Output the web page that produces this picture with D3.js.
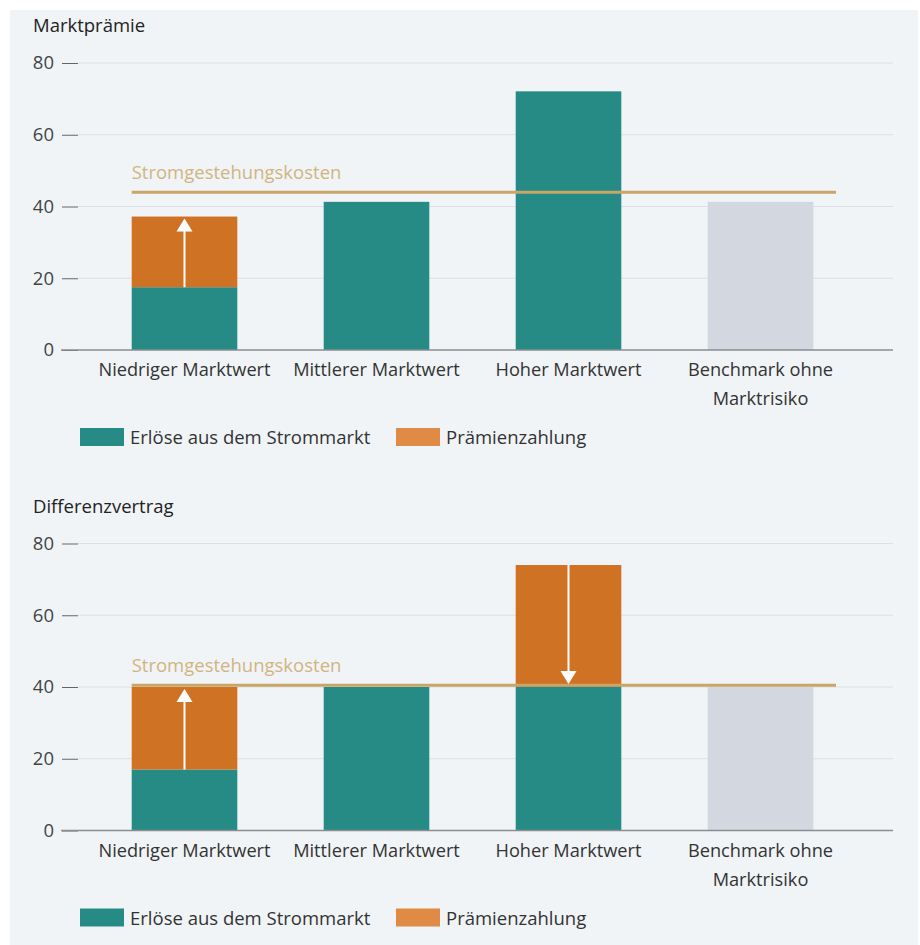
<!DOCTYPE html>
<html lang="de">
<head>
  <meta charset="utf-8">
  <title>Marktprämie vs. Differenzvertrag</title>
  <script src="https://d3js.org/d3.v7.min.js"></script>
  <style>
    body { margin: 0; background: #fff; }
    text { font-family: "Open Sans", sans-serif; fill: #333; }
  </style>
</head>
<body>
<script>
  // data
  var categories = ["Niedriger Marktwert", "Mittlerer Marktwert", "Hoher Marktwert", "Benchmark ohne Marktrisiko"];
  var yTicks = [0, 20, 40, 60, 80];
  var legendLabels = ["Erlöse aus dem Strommarkt", "Prämienzahlung"];
  var costLabel = "Stromgestehungskosten";

  // Marktprämie
  var mpMarket = [17.5, 41.3, 72.1, 0];
  var mpPremium = [19.7, 0, 0, 0];
  var mpBenchmark = [0, 0, 0, 41.3];
  var mpCost = 44;
  var mpArrows = ["up", null, null, null];

  // Differenzvertrag
  var cfdMarket = [17, 40, 40, 0];
  var cfdPremium = [23, 0, 34, 0];
  var cfdBenchmark = [0, 0, 0, 40];
  var cfdCost = 40.5;
  var cfdArrows = ["up", null, "down", null];

  var W = 920, H = 945;
  var teal = "#268b84", orange = "#d07224", grey = "#d3d8e0";

  var svg = d3.select("body").append("svg")
    .attr("width", W)
    .attr("height", H);

  svg.append("rect")
    .attr("x", 10).attr("y", 10)
    .attr("width", 908).attr("height", 935)
    .attr("fill", "#f0f4f7");

  var x = d3.scaleBand()
    .domain(categories)
    .range([88.5, 856.5])
    .paddingInner(0.45)
    .paddingOuter(0.225);

  function drawPanel(top, title, market, premium, bench, cost, arrows) {
    var g = svg.append("g");
    var y = d3.scaleLinear().domain([0, 80]).range([top + 287, top]);

    g.append("text")
      .attr("x", 33).attr("y", top - 31)
      .style("font-size", "18.5px")
      .style("fill", "#222")
      .text(title);

    // grid
    g.selectAll(".grid").data(yTicks.filter(function(d){ return d > 0; }))
      .enter().append("line")
      .attr("x1", 78).attr("x2", 893)
      .attr("y1", function(d){ return y(d); })
      .attr("y2", function(d){ return y(d); })
      .attr("stroke", "#dcdfe3").attr("stroke-width", 1);

    // y axis: label + dash
    var yAxis = d3.axisLeft(y).tickValues(yTicks).tickSize(16).tickPadding(8);
    var ya = g.append("g").attr("transform", "translate(78,0)").call(yAxis);
    ya.select(".domain").remove();
    ya.selectAll(".tick line").attr("stroke", "#666");
    ya.selectAll(".tick text").style("font-size", "18.5px").style("fill", "#444")
      .attr("font-family", null);

    // bars
    var rows = categories.map(function(c, i) {
      return {c: c, m: market[i], p: premium[i], b: bench[i], a: arrows[i]};
    });
    var bw = x.bandwidth();
    g.selectAll(".bench").data(rows.filter(function(d){ return d.b > 0; }))
      .enter().append("rect")
      .attr("x", function(d){ return x(d.c); })
      .attr("width", bw)
      .attr("y", function(d){ return y(d.b); })
      .attr("height", function(d){ return y(0) - y(d.b); })
      .attr("fill", grey);
    g.selectAll(".market").data(rows.filter(function(d){ return d.m > 0; }))
      .enter().append("rect")
      .attr("x", function(d){ return x(d.c); })
      .attr("width", bw)
      .attr("y", function(d){ return y(d.m); })
      .attr("height", function(d){ return y(0) - y(d.m); })
      .attr("fill", teal);
    g.selectAll(".premium").data(rows.filter(function(d){ return d.p > 0; }))
      .enter().append("rect")
      .attr("x", function(d){ return x(d.c); })
      .attr("width", bw)
      .attr("y", function(d){ return y(d.m + d.p); })
      .attr("height", function(d){ return y(d.m) - y(d.m + d.p); })
      .attr("fill", orange);

    // baseline
    g.append("line")
      .attr("x1", 61).attr("x2", 893)
      .attr("y1", y(0)).attr("y2", y(0))
      .attr("stroke", "#8a8d91").attr("stroke-width", 1.3);

    // cost line
    g.append("line")
      .attr("x1", x(categories[0])).attr("x2", 836)
      .attr("y1", y(cost)).attr("y2", y(cost))
      .attr("stroke", "#c9a567").attr("stroke-width", 3);
    g.append("text")
      .attr("x", x(categories[0])).attr("y", y(cost) - 13)
      .style("font-size", "18.5px")
      .style("fill", "#d2b47f")
      .text(costLabel);

    // arrows
    rows.filter(function(d){ return d.a; }).forEach(function(d) {
      var cx = x(d.c) + bw / 2;
      var from, tip;
      if (d.a === "up") { from = y(d.m); tip = y(d.m + d.p) + 2; }
      else { from = y(d.m + d.p); tip = y(d.m) - 3; }
      var dir = d.a === "up" ? 1 : -1;
      g.append("line")
        .attr("x1", cx).attr("x2", cx)
        .attr("y1", from).attr("y2", tip + dir * 10)
        .attr("stroke", "#fff").attr("stroke-width", 2);
      g.append("path")
        .attr("d", "M" + cx + "," + tip + "L" + (cx - 8) + "," + (tip + dir * 13) +
          "L" + (cx + 8) + "," + (tip + dir * 13) + "Z")
        .attr("fill", "#fff");
    });

    // x labels
    var xl = g.selectAll(".xl").data(categories).enter().append("text")
      .attr("x", function(d){ return x(d) + bw / 2; })
      .attr("y", y(0) + 26)
      .attr("text-anchor", "middle")
      .style("font-size", "18.2px");
    xl.each(function(d) {
      var t = d3.select(this);
      var lines = d.indexOf("Benchmark") === 0 ? ["Benchmark ohne", "Marktrisiko"] : [d];
      lines.forEach(function(l, i) {
        t.append("tspan").attr("x", x(d) + bw / 2).attr("dy", i ? 29 : 0).text(l);
      });
    });

    // legend
    var ly = y(0) + 78;
    var lg = g.append("g");
    [[80, teal, legendLabels[0]], [396, "#df8a45", legendLabels[1]]].forEach(function(it) {
      lg.append("rect").attr("x", it[0]).attr("y", ly).attr("width", 44).attr("height", 18)
        .attr("fill", it[1]);
      lg.append("text").attr("x", it[0] + 50).attr("y", ly + 16)
        .style("font-size", "18.5px").text(it[2]);
    });
  }

  drawPanel(63, "Marktprämie", mpMarket, mpPremium, mpBenchmark, mpCost, mpArrows);
  drawPanel(543.5, "Differenzvertrag", cfdMarket, cfdPremium, cfdBenchmark, cfdCost, cfdArrows);
</script>
</body>
</html>
